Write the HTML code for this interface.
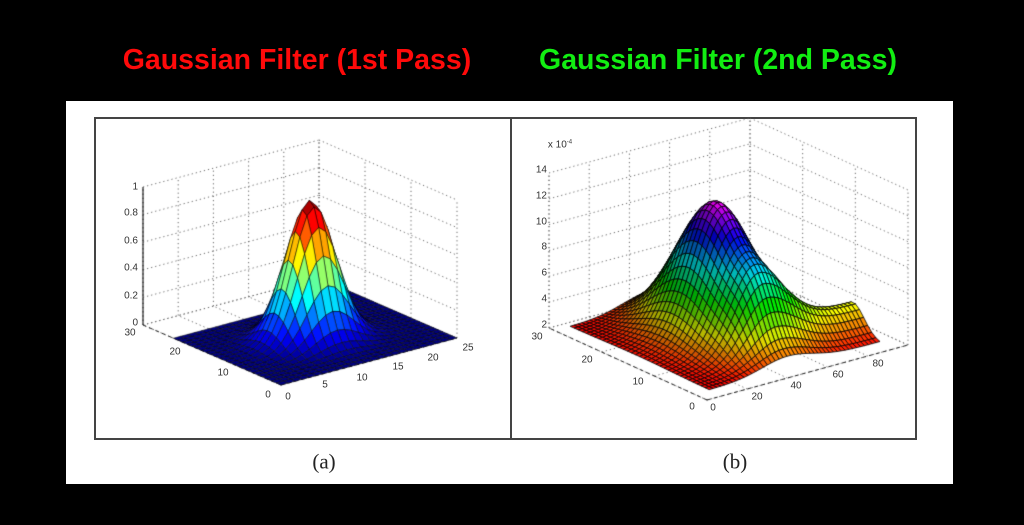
<!DOCTYPE html>
<html><head><meta charset="utf-8"><style>
html,body{margin:0;padding:0;background:#000;}
#wrap{position:relative;width:1024px;height:525px;overflow:hidden;background:#000;font-family:"Liberation Sans",sans-serif;}
.t{position:absolute;font-weight:bold;font-size:28.5px;white-space:nowrap;transform:translateX(-50%);top:44px;}
#panel{position:absolute;left:66px;top:101px;width:887px;height:383px;background:#fff;}
.box{position:absolute;top:117px;height:323px;border:2px solid #444;box-sizing:border-box;}
canvas{position:absolute;left:0;top:0;}
.l{position:absolute;font-size:10px;color:#333;white-space:nowrap;transform:translate(-50%,-50%);}
.r{position:absolute;font-size:10px;color:#333;white-space:nowrap;transform:translate(-100%,-50%);}
.cap{position:absolute;font-family:"Liberation Serif",serif;font-size:21px;color:#222;transform:translate(-50%,-50%);top:462px;}
</style></head><body><div id="wrap">
<div class="t" style="left:297px;color:#ff0a0a">Gaussian Filter (1st Pass)</div>
<div class="t" style="left:718px;color:#12ee12">Gaussian Filter (2nd Pass)</div>
<div id="panel"></div>
<div class="box" style="left:94px;width:418px"></div>
<div class="box" style="left:510px;width:407px"></div>
<canvas id="c" width="1024" height="525"></canvas>
<div class="r" style="left:138px;top:323px">0</div>
<div class="r" style="left:138px;top:296px">0.2</div>
<div class="r" style="left:138px;top:268px">0.4</div>
<div class="r" style="left:138px;top:241px">0.6</div>
<div class="r" style="left:138px;top:213px">0.8</div>
<div class="r" style="left:138px;top:187px">1</div>
<div class="l" style="left:288px;top:397px">0</div>
<div class="l" style="left:325px;top:385px">5</div>
<div class="l" style="left:362px;top:378px">10</div>
<div class="l" style="left:398px;top:367px">15</div>
<div class="l" style="left:433px;top:358px">20</div>
<div class="l" style="left:468px;top:348px">25</div>
<div class="l" style="left:268px;top:395px">0</div>
<div class="l" style="left:223px;top:373px">10</div>
<div class="l" style="left:175px;top:352px">20</div>
<div class="l" style="left:130px;top:333px">30</div>
<div class="l" style="left:560px;top:145px">x 10<sup style="font-size:6px">-4</sup></div>
<div class="r" style="left:547px;top:170px">14</div>
<div class="r" style="left:547px;top:196px">12</div>
<div class="r" style="left:547px;top:222px">10</div>
<div class="r" style="left:547px;top:247px">8</div>
<div class="r" style="left:547px;top:273px">6</div>
<div class="r" style="left:547px;top:299px">4</div>
<div class="r" style="left:547px;top:325px">2</div>
<div class="l" style="left:537px;top:337px">30</div>
<div class="l" style="left:587px;top:360px">20</div>
<div class="l" style="left:638px;top:382px">10</div>
<div class="l" style="left:692px;top:407px">0</div>
<div class="l" style="left:713px;top:408px">0</div>
<div class="l" style="left:757px;top:397px">20</div>
<div class="l" style="left:796px;top:386px">40</div>
<div class="l" style="left:838px;top:375px">60</div>
<div class="l" style="left:878px;top:364px">80</div>
<div class="cap" style="left:324px">(a)</div>
<div class="cap" style="left:735px">(b)</div>
</div>
<script>
const ctx=document.getElementById('c').getContext('2d');
function cl(x){return Math.max(0,Math.min(1,x));}
function plot(P){
  const {F,R,L,H,zmin,zmax}=P;
  const pr=(u,v,z)=>[F[0]+u*(R[0]-F[0])+v*(L[0]-F[0]),F[1]+u*(R[1]-F[1])+v*(L[1]-F[1])-(z-zmin)/(zmax-zmin)*H];
  const ln=(a,b)=>{ctx.beginPath();ctx.moveTo(a[0],a[1]);ctx.lineTo(b[0],b[1]);ctx.stroke();};
  ctx.save();ctx.setLineDash([1.2,3]);ctx.strokeStyle='#666';ctx.lineWidth=1;
  P.ut.forEach(t=>{ln(pr(t,0,zmin),pr(t,1,zmin));ln(pr(t,1,zmin),pr(t,1,zmax));});
  P.vt.forEach(t=>{ln(pr(0,t,zmin),pr(1,t,zmin));ln(pr(1,t,zmin),pr(1,t,zmax));});
  P.zt.forEach(z=>{ln(pr(0,1,z),pr(1,1,z));ln(pr(1,1,z),pr(1,0,z));});
  ln(pr(0,1,zmin),pr(0,1,zmax));
  ctx.setLineDash([4,3]);ctx.strokeStyle='#222';
  ln(pr(0,0,zmin),pr(1,0,zmin));ln(pr(0,0,zmin),pr(0,1,zmin));
  ctx.restore();
  if(P.solidZ){ctx.strokeStyle='#333';ctx.lineWidth=1.3;ln(pr(0,1,zmin),pr(0,1,zmax));}
  const fac=[];
  for(let i=0;i<P.N;i++)for(let j=0;j<P.M;j++){
    const u0=P.us+(P.ue-P.us)*i/P.N,u1=P.us+(P.ue-P.us)*(i+1)/P.N;
    const v0=P.vs+(P.ve-P.vs)*j/P.M,v1=P.vs+(P.ve-P.vs)*(j+1)/P.M;
    const z00=P.f(u0,v0),z10=P.f(u1,v0),z11=P.f(u1,v1),z01=P.f(u0,v1);
    const uc=(u0+u1)/2,vc=(v0+v1)/2;
    const by=F[1]+uc*(R[1]-F[1])+vc*(L[1]-F[1]);
    fac.push({by,pts:[pr(u0,v0,z00),pr(u1,v0,z10),pr(u1,v1,z11),pr(u0,v1,z01)],
      z:(z00+z10+z11+z01)/4,du:(z10+z11-z00-z01)/2/(u1-u0),dv:(z01+z11-z00-z10)/2/(v1-v0)});
  }
  fac.sort((a,b)=>a.by-b.by);
  ctx.lineWidth=P.lw;ctx.strokeStyle='#000';
  fac.forEach(f=>{
    ctx.beginPath();ctx.moveTo(f.pts[0][0],f.pts[0][1]);
    for(let k=1;k<4;k++)ctx.lineTo(f.pts[k][0],f.pts[k][1]);
    ctx.closePath();ctx.fillStyle=P.col(f);ctx.fill();ctx.stroke();
  });
}
plot({F:[281,385],R:[457,338],L:[143,325],H:138,zmin:0,zmax:1,
 ut:[0,.2,.4,.6,.8,1],vt:[0,1/3,2/3,1],zt:[0,.2,.4,.6,.8,1],solidZ:true,
 us:0,ue:1,vs:0,ve:0.78,N:25,M:23,lw:0.5,
 f:(u,v)=>{const x=u*25-12,y=v*30-12;return Math.exp(-(x*x+y*y)/(2*9));},
 col:f=>{const t=f.z;const r=cl(1.5-Math.abs(4*t-3)),g=cl(1.5-Math.abs(4*t-2)),b=cl(1.5-Math.abs(4*t-1));
   return `rgb(${r*255|0},${g*255|0},${b*255|0})`;}});
plot({F:[707,400],R:[908,345],L:[549,328],H:155,zmin:2,zmax:14,
 ut:[0,.2,.4,.6,.8,1],vt:[0,1/3,2/3,1],zt:[2,4,6,8,10,12,14],solidZ:false,
 us:0.05,ue:0.9,vs:0.05,ve:0.93,N:44,M:34,lw:0.8,
 f:(u,v)=>{const A=Math.exp(-((u-.44)**2)/(2*.13*.13))*Math.exp(-((v-.5)**2)/(2*.2*.2));
   const rg=Math.exp(-((v-.22)**2)/(2*.07*.07))*(u>.44?1:Math.exp(-((u-.44)**2)/(2*.1*.1)));
   return 2.3+10.4*A+2.2*rg;},
 col:f=>{const t=cl((f.z-2.3)/10.4);const h=300*t;
   let nx=-f.du/12*0.8,ny=-f.dv/12*0.8,nz=1;const n=Math.hypot(nx,ny,nz);
   const d=(nx*0.5+ny*(-0.35)+nz*0.8)/n/Math.hypot(0.5,0.35,0.8);
   const s=cl(0.7+0.35*d);
   return `hsl(${h},100%,${(50*s).toFixed(1)}%)`;}});
</script>
</body></html>
